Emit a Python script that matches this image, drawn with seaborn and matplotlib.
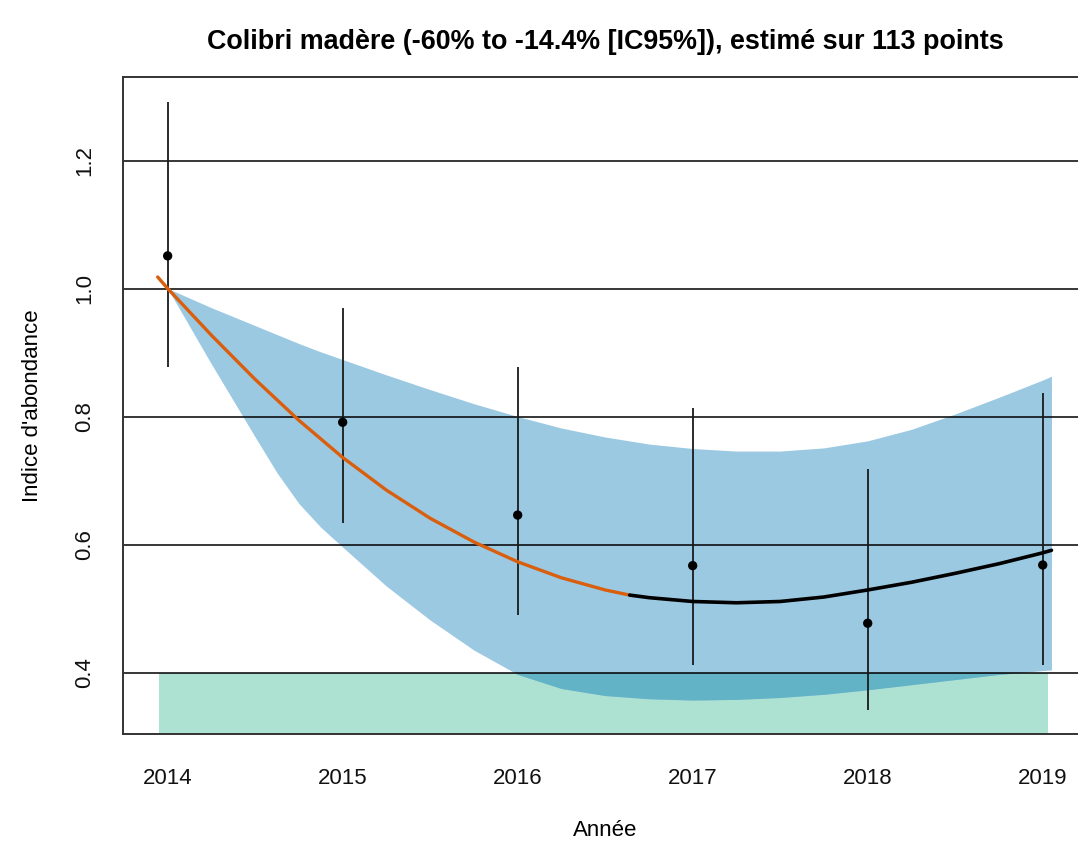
import numpy as np
import matplotlib
matplotlib.use("Agg")
import matplotlib.pyplot as plt
import seaborn as sns

# yearly index with 95% error bars
years = [2014, 2015, 2016, 2017, 2018, 2019]
index_pts = [1.051, 0.791, 0.646, 0.567, 0.477, 0.568]
err_low = [0.877, 0.634, 0.490, 0.412, 0.342, 0.412]
err_high = [1.292, 0.970, 0.878, 0.813, 0.718, 0.837]

# smoothed trend, first part (decline) and second part
trend1_x = [2013.943, 2014.0, 2014.25, 2014.5, 2014.75, 2015.0, 2015.25, 2015.5,
            2015.75, 2016.0, 2016.25, 2016.5, 2016.64]
trend1_y = [1.018, 1.0, 0.927, 0.858, 0.794, 0.736, 0.685, 0.641,
            0.604, 0.573, 0.548, 0.529, 0.521]
trend2_x = [2016.64, 2016.75, 2017.0, 2017.25, 2017.5, 2017.75, 2018.0, 2018.25,
            2018.5, 2018.75, 2019.0, 2019.05]
trend2_y = [0.521, 0.517, 0.511, 0.509, 0.511, 0.518, 0.529, 0.541,
            0.555, 0.570, 0.587, 0.591]

# confidence ribbon of the trend
ci_x = [2014.0, 2014.25, 2014.5, 2014.625, 2014.75, 2014.875, 2015.0, 2015.25,
        2015.5, 2015.75, 2016.0, 2016.25, 2016.5, 2016.75, 2017.0, 2017.25,
        2017.5, 2017.75, 2018.0, 2018.25, 2018.5, 2018.75, 2019.0, 2019.05]
ci_upper = [1.0, 0.970, 0.942, 0.928, 0.914, 0.901, 0.889, 0.865,
            0.842, 0.820, 0.800, 0.782, 0.768, 0.757, 0.750, 0.746,
            0.746, 0.751, 0.762, 0.780, 0.804, 0.830, 0.857, 0.863]
ci_lower = [1.0, 0.882, 0.768, 0.712, 0.664, 0.627, 0.596, 0.535,
            0.482, 0.435, 0.397, 0.375, 0.364, 0.359, 0.357, 0.358,
            0.361, 0.366, 0.373, 0.381, 0.389, 0.397, 0.403, 0.404]

# low abundance zone
zone_x = [2013.95, 2019.03]
zone_top = 0.4

yticks = [0.4, 0.6, 0.8, 1.0, 1.2]
title = "Colibri madère (-60% to -14.4% [IC95%]), estimé sur 113 points"

sns.set_style("white")
plt.rcParams['font.family'] = ['Liberation Sans', 'DejaVu Sans']
plt.rcParams['text.color'] = 'black'
plt.rcParams['axes.labelcolor'] = 'black'

fig = plt.figure(figsize=(10.78, 8.42), dpi=100)
ax = fig.add_axes([0.1138, 0.1283, 0.8952, 0.7799])

blue = "#9cc9e2"
green = "#ade2d2"
teal = "#62b3c6"

ax.fill_between(zone_x, [0.2, 0.2], [zone_top, zone_top], color=green, lw=0, zorder=1)
ax.fill_between(ci_x, ci_lower, ci_upper, color=blue, lw=0, zorder=1.5)
lo = np.array(ci_lower)
ax.fill_between(ci_x, lo, np.minimum(np.array(ci_upper), zone_top),
                where=lo < zone_top, interpolate=True, color=teal, lw=0, zorder=1.6)

for yv in yticks:
    ax.axhline(yv, color="black", lw=1.1, zorder=2)

ax.vlines(years, err_low, err_high, color="#1a1a1a", lw=1.3, zorder=3)
sns.scatterplot(x=years, y=index_pts, ax=ax, color="black", s=45, edgecolor="none", zorder=4)
sns.lineplot(x=trend1_x, y=trend1_y, ax=ax, color="#d95f0e", lw=2.4, zorder=5)
sns.lineplot(x=trend2_x, y=trend2_y, ax=ax, color="black", lw=2.6, zorder=5)

ax.set_xlim(2013.743, 2019.257)
ax.set_ylim(0.304, 1.330)
ax.set_xticks(years)
ax.set_yticks(yticks)
ax.set_yticklabels([f"{v:.1f}" for v in yticks], rotation=90, va="center")
ax.tick_params(axis="both", direction="out", length=10, width=1.1, color="#333333",
               labelsize=16, labelcolor="#111111")
ax.tick_params(axis="x", pad=14.5)
ax.tick_params(axis="y", pad=10)

for side in ["left", "bottom", "top"]:
    ax.spines[side].set_color("#333333")
    ax.spines[side].set_linewidth(1.4)
ax.spines["right"].set_visible(False)

ax.set_xlabel("Année", fontsize=16, labelpad=22)
ax.set_ylabel("Indice d'abondance", fontsize=16, labelpad=22)

fig.text(0.5613, 1 - 42 / 842, title, ha="center", va="center",
         fontsize=19.4, fontweight="bold")

fig.savefig("out.png", dpi=100)
